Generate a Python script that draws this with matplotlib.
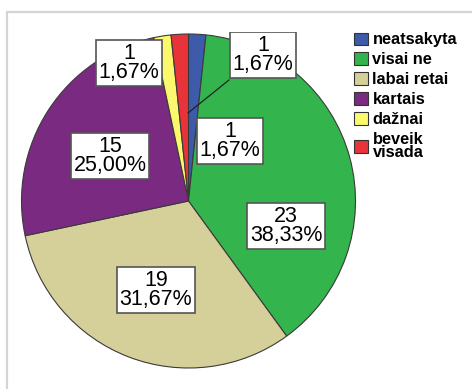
import matplotlib; matplotlib.use("Agg")
import matplotlib.pyplot as plt
from matplotlib.patches import Rectangle, Patch

plt.rcParams["font.family"] = ["Liberation Sans", "DejaVu Sans"]

# ── Data ───────────────────────────────────────────────────────────────────────
categories = ["neatsakyta", "visai ne", "labai retai", "kartais", "dažnai", "beveik\nvisada"]
counts     = [1, 23, 19, 15, 1, 1]
colors     = ["#3d5aab", "#34b44c", "#d5cf9a", "#7b2a82", "#fbf86e", "#e8333b"]

# ── Layout (pixel space, y measured upward) ───────────────────────────────────
W, H = 472, 389
CX, CY, R = 188.5, H - 201, 167
# label box centres (x, y_up) per slice, in the same order as the data
label_xy = [(263, H - 55), (286, H - 226), (156, H - 290),
            (110, H - 156), (129, H - 63), (230, H - 141)]
leader = ((188, H - 113), (229, H - 80))

fig = plt.figure(figsize=(W / 100, H / 100), dpi=100, facecolor="white")

# light screenshot-style frame
fig.patches.append(Rectangle((7 / W, -0.05), 1.2, 1 - 12 / H + 0.05,
                             transform=fig.transFigure, fill=False,
                             ec="#d4d4d4", lw=1.6, zorder=0))

ax = fig.add_axes([27 / W, 0, (W - 27) / W, (H - 32) / H])

wedges, _ = ax.pie(counts, colors=colors, startangle=90, counterclock=False,
                   center=(CX, CY), radius=R, frame=True,
                   wedgeprops=dict(edgecolor="#3a3a3a", linewidth=0.8))
ax.set_xlim(27, W)
ax.set_ylim(0, H - 32)
ax.set_aspect("auto")
ax.axis("off")

total = sum(counts)
for i, v in enumerate(counts):
    txt = f"{v}\n{100 * v / total:.2f}%".replace(".", ",")
    x, y = label_xy[i]
    ax.text(x, y, txt, ha="center", va="center", fontsize=15.5,
            linespacing=0.92, clip_on=True, zorder=5,
            bbox=dict(boxstyle="square,pad=0.12", fc="white",
                      ec="#555555", lw=1.2))

ax.plot([leader[0][0], leader[1][0]], [leader[0][1], leader[1][1]],
        color="#222222", lw=0.9, zorder=4)

handles = [Patch(facecolor=c, edgecolor="#333333", lw=0.8) for c in colors]
leg = fig.legend(handles, categories, loc="upper left",
                 bbox_to_anchor=(343 / W, 1 - 21 / H), frameon=False,
                 prop=dict(weight="bold", size=11.8),
                 handlelength=0.8, handleheight=0.8, handletextpad=0.3,
                 labelspacing=0.3, borderpad=0.2)
for t in leg.get_texts():
    t.set_linespacing(0.85)

plt.savefig("out.png", dpi=100)
plt.close()
